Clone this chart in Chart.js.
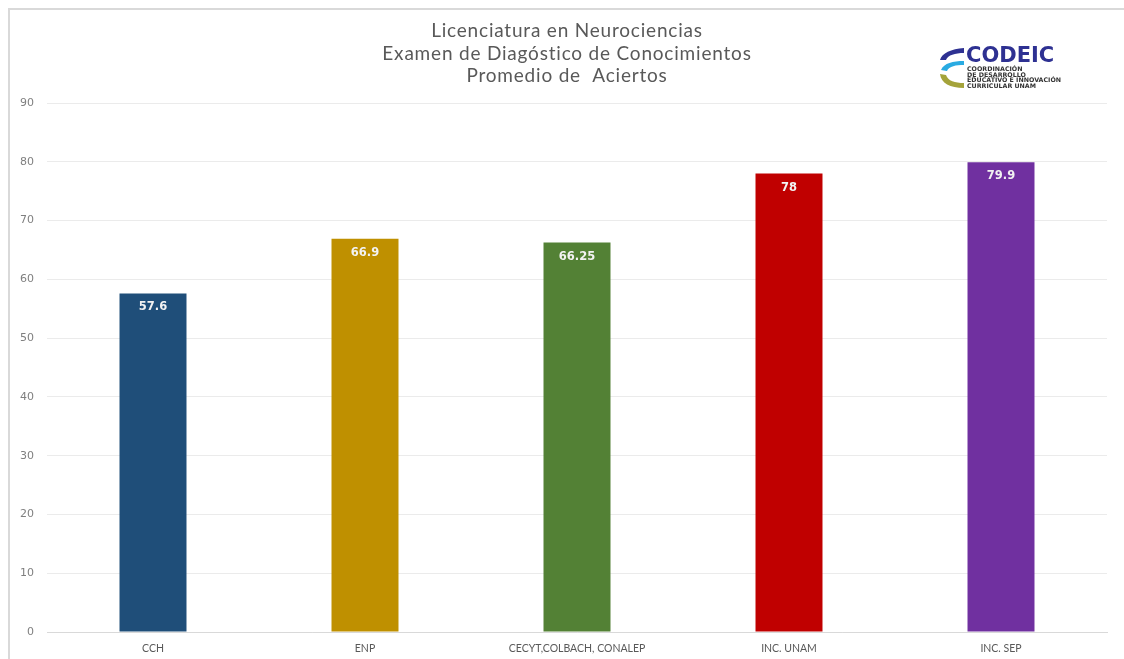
<!DOCTYPE html>
<html>
<head>
<meta charset="utf-8">
<script src="https://cdn.jsdelivr.net/npm/chart.js@4/dist/chart.umd.min.js"></script>
<style>
  html, body { margin: 0; background: #fff; overflow: hidden; }
  #wrap { position: relative; width: 1124px; height: 659px; }
  canvas { display: block; }
  #frame { position: absolute; left: 8px; top: 8px; width: 1116px; height: 651px;
           border-left: 2px solid #d9d9d9; border-top: 2px solid #d9d9d9; box-sizing: border-box; }
  #logo { position: absolute; left: 938px; top: 43px; width: 140px; height: 50px; }
  #logo .big { position: absolute; left: 28px; top: 0; font: bold 21px "DejaVu Sans", sans-serif;
               color: #2e3192; }
  #logo .small { position: absolute; left: 29px; top: 23px; font: bold 6.3px/5.6px "DejaVu Sans", sans-serif;
                 color: #333; white-space: nowrap; }
  #logo svg { position: absolute; left: 0; top: 3px; }
</style>
</head>
<body>
<div id="wrap">
  <canvas id="chart" width="1124" height="659"></canvas>
  <div id="frame"></div>
  <div id="logo">
    <svg width="30" height="46" viewBox="0 0 30 46">
      <path d="M26 2 C13 3 4 7 2 14 L8 14 C10 9 17 7 26 7 Z" fill="#2e3192"/>
      <path d="M26 15 C15 15 6 17 3 24 L9 25 C11 20 18 19 26 19 Z" fill="#29abe2"/>
      <path d="M2 28 C3 37 12 42 26 42 L26 37 C17 37 10 35 8 29 Z" fill="#a4a33a"/>
    </svg>
    <div class="big">CODEIC</div>
    <div class="small">COORDINACIÓN<br>DE DESARROLLO<br>EDUCATIVO E INNOVACIÓN<br>CURRICULAR UNAM</div>
  </div>
</div>
<script>
const categories = ['CCH', 'ENP', 'CECYT,COLBACH, CONALEP', 'INC. UNAM', 'INC. SEP'];
const promedio = [57.6, 66.9, 66.25, 78, 79.9];
const barColors = ['#1f4e79', '#bf9000', '#538135', '#c00000', '#7030a0'];
const titleLines = ['Licenciatura en Neurociencias', 'Examen de Diagóstico de Conocimientos', 'Promedio de  Aciertos'];

// title drawn by hand so the plot top stays where it should
const titlePlugin = {
  id: 'titleLines',
  afterDraw(chart) {
    const c = chart.ctx;
    c.save();
    c.fillStyle = '#595959';
    c.font = '19px Lato, sans-serif';
    c.letterSpacing = '0.8px';
    c.textAlign = 'center';
    c.textBaseline = 'middle';
    titleLines.forEach((t, i) => c.fillText(t, 567, 31 + i * 22.5));
    c.restore();
  }
};

// value labels inside the top of each bar
const valueLabels = {
  id: 'valueLabels',
  afterDatasetsDraw(chart) {
    const c = chart.ctx;
    const meta = chart.getDatasetMeta(0);
    c.save();
    c.fillStyle = '#f2f2f2';
    c.font = 'bold 11.5px "DejaVu Sans", sans-serif';
    c.textAlign = 'center';
    c.textBaseline = 'middle';
    meta.data.forEach((bar, i) => {
      c.fillText(String(promedio[i]), bar.x, bar.y + 14);
    });
    c.restore();
  }
};

new Chart(document.getElementById('chart'), {
  type: 'bar',
  data: {
    labels: categories,
    datasets: [{
      data: promedio,
      backgroundColor: barColors,
      categoryPercentage: 1,
      barPercentage: 0.316
    }]
  },
  options: {
    responsive: false,
    animation: false,
    layout: { padding: { top: 103, right: 17, left: 0, bottom: 0 } },
    plugins: { legend: { display: false }, tooltip: { enabled: false } },
    scales: {
      x: {
        grid: { display: false, drawTicks: false },
        border: { display: true, color: '#d9d9d9' },
        ticks: { color: '#595959', font: { family: 'Lato, sans-serif', size: 10.5 }, padding: 10, maxRotation: 0 },
        afterFit(s) { s.height = 27; }
      },
      y: {
        min: 0, max: 90,
        ticks: { stepSize: 10, color: '#7f7f7f', font: { family: '"DejaVu Sans", sans-serif', size: 11 }, padding: 13 },
        grid: { color: '#ebebeb', drawTicks: false },
        border: { display: false },
        afterFit(s) { s.width = 47; }
      }
    }
  },
  plugins: [titlePlugin, valueLabels]
});
</script>
</body>
</html>
